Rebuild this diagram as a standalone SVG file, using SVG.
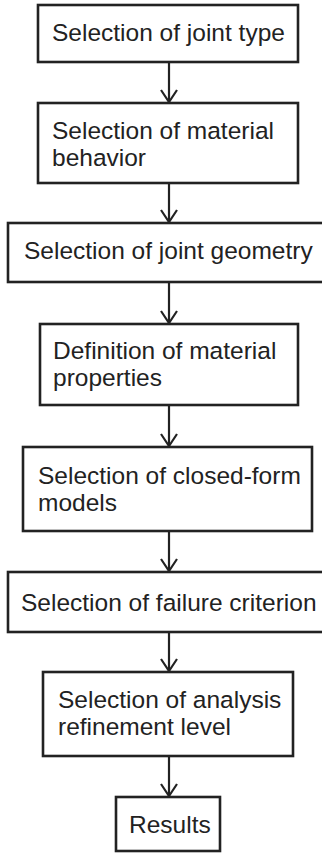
<svg xmlns="http://www.w3.org/2000/svg" width="322" height="854" viewBox="0 0 322 854">
<style>
.box{fill:#fff;stroke:#222;stroke-width:2.6}
.t{font-family:"Liberation Sans",Arial,sans-serif;font-size:24.5px;fill:#222}
.c{stroke:#222;stroke-width:2.2;fill:none}
.h{stroke:#222;stroke-width:2.2;fill:none;stroke-linejoin:miter}
</style>
<rect width="322" height="854" fill="#fff"/>
<g id="connectors">
<line class="c" x1="169" y1="62" x2="169" y2="102"/><polyline class="h" points="161,90 169,102 177,90"/>
<line class="c" x1="169" y1="183" x2="169" y2="222"/><polyline class="h" points="161,210 169,222 177,210"/>
<line class="c" x1="169" y1="282" x2="169" y2="323"/><polyline class="h" points="161,311 169,323 177,311"/>
<line class="c" x1="169" y1="405" x2="169" y2="446"/><polyline class="h" points="161,434 169,446 177,434"/>
<line class="c" x1="169" y1="531" x2="169" y2="571"/><polyline class="h" points="161,559 169,571 177,559"/>
<line class="c" x1="169" y1="632" x2="169" y2="671"/><polyline class="h" points="161,659 169,671 177,659"/>
<line class="c" x1="169" y1="756" x2="169" y2="796"/><polyline class="h" points="161,784 169,796 177,784"/>
</g>
<g id="n1"><rect class="box" x="38" y="5" width="260" height="57"/><text class="t" x="52" y="41">Selection of joint type</text></g>
<g id="n2"><rect class="box" x="38" y="103" width="260" height="80"/><text class="t" x="52" y="139">Selection of material</text><text class="t" x="52" y="166">behavior</text></g>
<g id="n3"><rect class="box" x="8" y="223" width="320" height="59"/><text class="t" x="24" y="259">Selection of joint geometry</text></g>
<g id="n4"><rect class="box" x="40" y="324" width="258" height="81"/><text class="t" x="53" y="359">Definition of material</text><text class="t" x="53" y="386">properties</text></g>
<g id="n5"><rect class="box" x="23" y="447" width="289" height="84"/><text class="t" x="38" y="484">Selection of closed-form</text><text class="t" x="38" y="511">models</text></g>
<g id="n6"><rect class="box" x="8" y="572" width="320" height="60"/><text class="t" x="21" y="611">Selection of failure criterion</text></g>
<g id="n7"><rect class="box" x="43" y="672" width="250" height="84"/><text class="t" x="58" y="708">Selection of analysis</text><text class="t" x="58" y="735">refinement level</text></g>
<g id="n8"><rect class="box" x="116" y="797" width="104" height="54"/><text class="t" x="129" y="833">Results</text></g>
</svg>
